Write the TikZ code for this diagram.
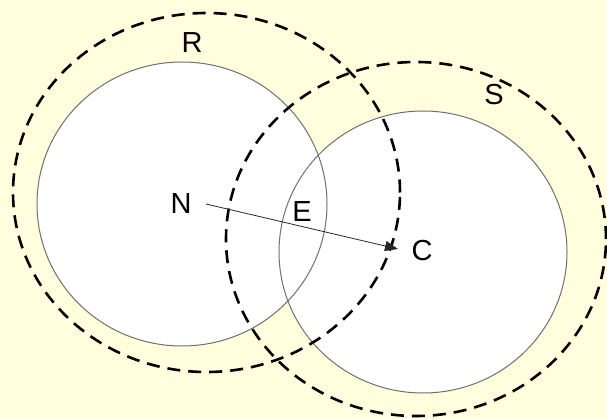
\documentclass[tikz,border=0pt]{standalone}
\usepackage{fontspec}
\setmainfont{Liberation Sans}
\usetikzlibrary{arrows.meta}
\definecolor{bgyellow}{HTML}{FFFFDE}
\definecolor{rimgray}{HTML}{707070}
\begin{document}
\begin{tikzpicture}[x=1pt,y=-1pt,
  zonerim/.style={draw=rimgray,line width=1pt},
  dashring/.style={draw=black,line width=2.6pt,dash pattern=on 13pt off 8pt},
  lbl/.style={font=\fontsize{29}{34}\selectfont,inner sep=0pt},
  link/.style={draw=black!85,line width=0.8pt,-{Triangle[length=13pt,width=10pt]}}]
\fill[bgyellow] (0,0) rectangle (607,419);
\useasboundingbox (0,0) rectangle (607,419);
% filled discs
\fill[white] (182,204) ellipse [x radius=145pt, y radius=142pt];
\fill[white] (423,252) ellipse [x radius=144pt, y radius=141pt];
\draw[zonerim] (182,204) ellipse [x radius=145pt, y radius=142pt];
\draw[zonerim] (423,252) ellipse [x radius=144pt, y radius=141pt];
% dashed ranges
\draw[dashring] (206.5,192.5) ellipse [x radius=193.5pt, y radius=179.5pt];
\draw[dashring] (416,239) ellipse [x radius=190pt, y radius=177pt];
% labels
\node[lbl] (R) at (192,43) {R};
\node[lbl] (S) at (494,95) {S};
\node[lbl] (N) at (181,204) {N};
\node[lbl] (E) at (302,212) {E};
\node[lbl] (C) at (422,251) {C};
% arrow
\coordinate (Nc) at (206,204);
\coordinate (Cc) at (398,249);
\draw[link] (Nc) -- (Cc);
\end{tikzpicture}
\end{document}
